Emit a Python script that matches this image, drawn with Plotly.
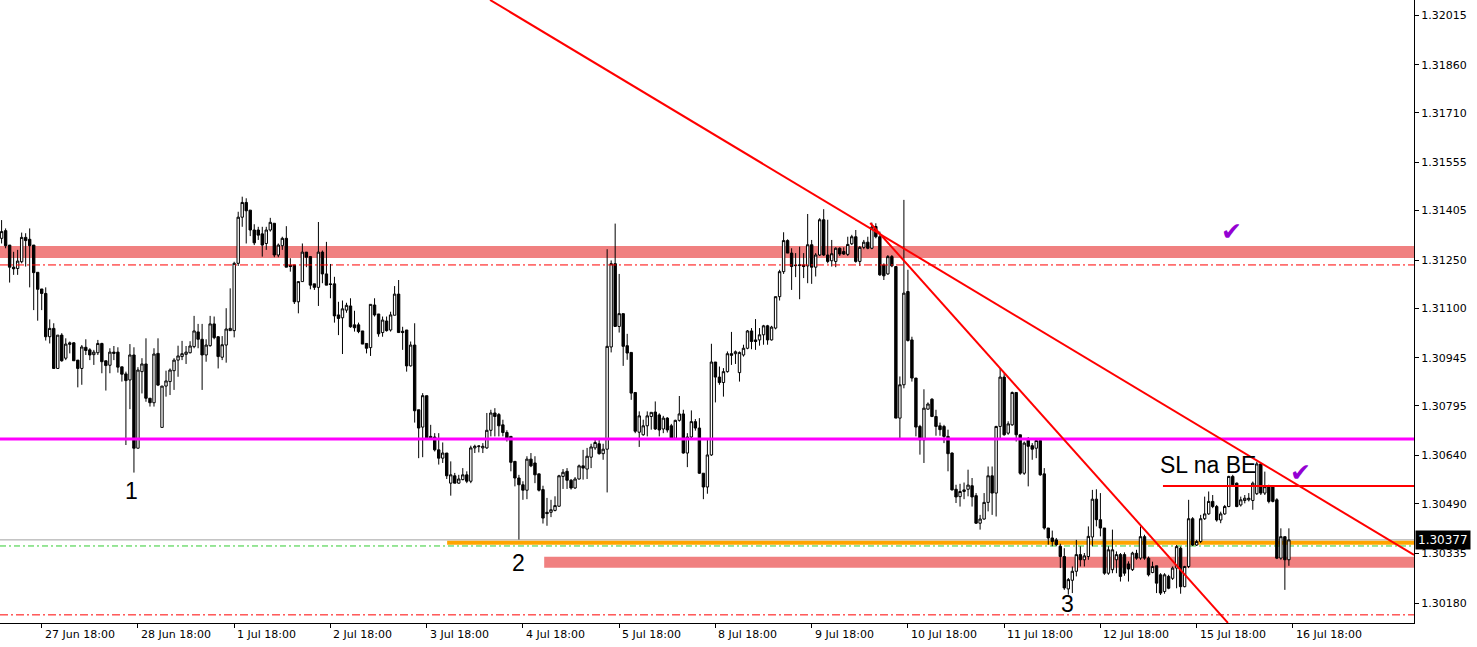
import plotly.graph_objects as go

# ---------------- data (GBPUSD-like H1 candles) ----------------
opens = [
1.31318,1.31342,1.31297,1.31228,1.31224,1.31245,1.31321,1.31315,1.31297,1.31212,
1.31160,1.31146,1.31011,1.31037,1.30912,1.31016,1.30944,1.30987,1.30992,1.30938,
1.30912,1.30978,1.30970,1.30955,1.30961,1.30990,1.30936,1.30922,1.30963,1.30963,
1.30917,1.30895,1.30876,1.30954,1.30663,1.30902,1.30926,1.30819,1.30805,1.30959,
1.30728,1.30857,1.30871,1.30905,1.30938,1.30949,1.30956,1.30961,1.30980,1.31026,
1.31003,1.30954,1.30983,1.31051,1.31011,1.30947,1.30985,1.31030,1.31030,1.31240,
1.31384,1.31430,1.31406,1.31344,1.31344,1.31332,1.31302,1.31344,1.31365,1.31266,
1.31295,1.31318,1.31234,1.31235,1.31120,1.31183,1.31275,1.31261,1.31176,1.31165,
1.31275,1.31207,1.31176,1.31176,1.31079,1.31070,1.31094,1.31107,1.31048,1.31048,
1.31029,1.30990,1.30977,1.31110,1.31082,1.31024,1.31060,1.31032,1.31078,1.31144,
1.31028,1.31032,1.30920,1.30985,1.30783,1.30729,1.30827,1.30700,1.30698,1.30658,
1.30632,1.30648,1.30554,1.30577,1.30554,1.30565,1.30580,1.30560,1.30664,1.30668,
1.30664,1.30664,1.30719,1.30773,1.30768,1.30736,1.30712,1.30700,1.30622,1.30570,
1.30549,1.30532,1.30629,1.30617,1.30583,1.30534,1.30463,1.30463,1.30469,1.30482,
1.30575,1.30591,1.30563,1.30539,1.30567,1.30608,1.30598,1.30635,1.30664,1.30677,
1.30646,1.30660,1.30979,1.31239,1.31043,1.31083,1.30983,1.30962,1.30837,1.30713,
1.30705,1.30733,1.30762,1.30776,1.30767,1.30723,1.30757,1.30733,1.30694,1.30750,
1.30770,1.30648,1.30698,1.30746,1.30726,1.30585,1.30542,1.30642,1.30932,1.30885,
1.30868,1.30902,1.30958,1.30958,1.30899,1.30954,1.30975,1.31029,1.31001,1.31001,
1.31017,1.31045,1.31001,1.31038,1.31136,1.31214,1.31311,1.31272,1.31235,1.31233,
1.31235,1.31232,1.31298,1.31228,1.31266,1.31376,1.31266,1.31248,1.31246,1.31287,
1.31277,1.31268,1.31301,1.31323,1.31246,1.31290,1.31306,1.31287,1.31355,1.31323,
1.31235,1.31207,1.31261,1.31230,1.30757,1.30861,1.31152,1.31001,1.30882,1.30731,
1.30689,1.30785,1.30816,1.30762,1.30733,1.30731,1.30700,1.30648,1.30535,1.30512,
1.30528,1.30535,1.30546,1.30515,1.30429,1.30442,1.30494,1.30577,1.30523,1.30731,
1.30885,1.30710,1.30736,1.30837,1.30705,1.30585,1.30691,1.30671,1.30663,1.30687,
1.30583,1.30414,1.30383,1.30377,1.30357,1.30325,1.30224,1.30251,1.30279,1.30331,
1.30315,1.30325,1.30386,1.30504,1.30440,1.30414,1.30273,1.30284,1.30315,1.30331,
1.30331,1.30302,1.30284,1.30335,1.30320,1.30387,1.30320,1.30275,1.30296,1.30268,
1.30216,1.30263,1.30257,1.30289,1.30351,1.30231,1.30294,1.30443,1.30361,1.30372,
1.30443,1.30458,1.30497,1.30481,1.30439,1.30458,1.30481,1.30575,1.30554,1.30486,
1.30500,1.30502,1.30500,1.30521,1.30614,1.30523,1.30543,1.30543,1.30502,1.30320,
1.30387,1.30315]

highs = [
1.31375,1.31349,1.31297,1.31276,1.31282,1.31336,1.31334,1.31349,1.31297,1.31212,
1.31160,1.31165,1.31065,1.31053,1.31016,1.31022,1.31006,1.30996,1.30994,1.30938,
1.30985,1.31003,1.30975,1.30970,1.31001,1.30992,1.30936,1.30975,1.30982,1.30978,
1.30917,1.30902,1.30988,1.30978,1.30916,1.30944,1.31006,1.30819,1.30975,1.31006,
1.30857,1.30905,1.30912,1.30944,1.30983,1.30998,1.30982,1.30997,1.31076,1.31051,
1.31051,1.31003,1.31076,1.31074,1.31013,1.31013,1.31100,1.31162,1.31245,1.31401,
1.31448,1.31443,1.31406,1.31362,1.31354,1.31354,1.31354,1.31382,1.31365,1.31302,
1.31323,1.31356,1.31256,1.31235,1.31183,1.31302,1.31275,1.31263,1.31176,1.31369,
1.31280,1.31307,1.31238,1.31198,1.31120,1.31124,1.31117,1.31131,1.31092,1.31055,
1.31029,1.30990,1.31112,1.31131,1.31082,1.31074,1.31074,1.31089,1.31169,1.31188,
1.31042,1.31032,1.30996,1.31053,1.30783,1.30835,1.30827,1.30736,1.30710,1.30710,
1.30681,1.30648,1.30622,1.30586,1.30580,1.30601,1.30591,1.30671,1.30674,1.30671,
1.30679,1.30773,1.30783,1.30788,1.30773,1.30752,1.30719,1.30700,1.30622,1.30580,
1.30560,1.30638,1.30648,1.30638,1.30583,1.30546,1.30508,1.30502,1.30513,1.30580,
1.30598,1.30601,1.30567,1.30573,1.30612,1.30658,1.30664,1.30677,1.30692,1.30695,
1.30677,1.31284,1.31249,1.31364,1.31207,1.31083,1.31020,1.30962,1.30837,1.30778,
1.30752,1.30778,1.30775,1.30809,1.30772,1.30764,1.30760,1.30739,1.30752,1.30826,
1.30783,1.30710,1.30781,1.30754,1.30757,1.30585,1.30689,1.30989,1.30932,1.30918,
1.30913,1.30965,1.31026,1.30968,1.30965,1.30986,1.31032,1.31038,1.31066,1.31038,
1.31048,1.31048,1.31045,1.31136,1.31220,1.31337,1.31315,1.31287,1.31272,1.31292,
1.31272,1.31394,1.31313,1.31272,1.31381,1.31409,1.31376,1.31313,1.31290,1.31290,
1.31290,1.31323,1.31329,1.31344,1.31294,1.31313,1.31323,1.31367,1.31365,1.31339,
1.31240,1.31266,1.31266,1.31230,1.30887,1.31438,1.31220,1.31011,1.30882,1.30736,
1.30847,1.30806,1.30819,1.30783,1.30743,1.30736,1.30721,1.30650,1.30549,1.30552,
1.30556,1.30596,1.30570,1.30523,1.30455,1.30523,1.30606,1.30606,1.30733,1.30913,
1.30897,1.30747,1.30840,1.30837,1.30705,1.30684,1.30698,1.30679,1.30689,1.30689,
1.30601,1.30414,1.30406,1.30383,1.30365,1.30351,1.30258,1.30294,1.30377,1.30357,
1.30336,1.30419,1.30533,1.30535,1.30523,1.30414,1.30357,1.30409,1.30341,1.30336,
1.30338,1.30310,1.30340,1.30346,1.30419,1.30393,1.30325,1.30309,1.30296,1.30273,
1.30273,1.30268,1.30294,1.30361,1.30356,1.30296,1.30502,1.30448,1.30377,1.30455,
1.30512,1.30528,1.30517,1.30486,1.30465,1.30486,1.30577,1.30580,1.30556,1.30512,
1.30517,1.30523,1.30559,1.30621,1.30616,1.30590,1.30549,1.30543,1.30507,1.30413,
1.30387,1.30413]

lows = [
1.31302,1.31287,1.31180,1.31204,1.31204,1.31240,1.31230,1.31165,1.31094,1.31061,
1.31094,1.30999,1.30990,1.30912,1.30912,1.30933,1.30938,1.30959,1.30936,1.30853,
1.30861,1.30954,1.30938,1.30923,1.30954,1.30897,1.30843,1.30897,1.30938,1.30899,
1.30871,1.30673,1.30785,1.30587,1.30663,1.30834,1.30808,1.30793,1.30793,1.30857,
1.30728,1.30824,1.30829,1.30845,1.30886,1.30938,1.30926,1.30959,1.30975,1.30975,
1.30845,1.30933,1.30980,1.31003,1.30912,1.30938,1.30930,1.31030,1.31009,1.31232,
1.31354,1.31302,1.31325,1.31297,1.31313,1.31261,1.31282,1.31339,1.31259,1.31259,
1.31282,1.31228,1.31214,1.31113,1.31084,1.31183,1.31228,1.31159,1.31157,1.31107,
1.31178,1.31172,1.31131,1.31055,1.31016,1.30957,1.31086,1.31039,1.31027,1.31022,
1.30988,1.30959,1.30951,1.31074,1.31011,1.31011,1.31027,1.31027,1.31078,1.31024,
1.30970,1.30902,1.30918,1.30743,1.30632,1.30635,1.30690,1.30690,1.30653,1.30612,
1.30617,1.30567,1.30515,1.30554,1.30552,1.30563,1.30554,1.30554,1.30648,1.30650,
1.30648,1.30661,1.30700,1.30700,1.30700,1.30700,1.30684,1.30591,1.30544,1.30378,
1.30502,1.30504,1.30604,1.30554,1.30528,1.30428,1.30421,1.30448,1.30466,1.30480,
1.30536,1.30536,1.30534,1.30536,1.30565,1.30565,1.30567,1.30601,1.30658,1.30643,
1.30627,1.30525,1.30962,1.31043,1.31024,1.30920,1.30939,1.30814,1.30710,1.30667,
1.30702,1.30700,1.30721,1.30720,1.30700,1.30710,1.30712,1.30691,1.30689,1.30746,
1.30646,1.30604,1.30694,1.30718,1.30583,1.30504,1.30521,1.30639,1.30806,1.30861,
1.30824,1.30899,1.30923,1.30926,1.30871,1.30949,1.30972,1.30972,1.30970,1.30983,
1.30986,1.30986,1.30999,1.31034,1.31124,1.31207,1.31272,1.31157,1.31197,1.31128,
1.31194,1.31178,1.31176,1.31199,1.31263,1.31263,1.31240,1.31230,1.31228,1.31263,
1.31266,1.31263,1.31297,1.31242,1.31232,1.31284,1.31284,1.31284,1.31318,1.31201,
1.31188,1.31204,1.31228,1.30757,1.30689,1.30850,1.30996,1.30871,1.30700,1.30643,
1.30617,1.30783,1.30760,1.30702,1.30702,1.30679,1.30591,1.30531,1.30492,1.30481,
1.30504,1.30513,1.30481,1.30427,1.30409,1.30440,1.30466,1.30455,1.30450,1.30689,
1.30702,1.30705,1.30733,1.30684,1.30580,1.30580,1.30544,1.30627,1.30632,1.30577,
1.30409,1.30362,1.30357,1.30357,1.30289,1.30221,1.30206,1.30211,1.30263,1.30294,
1.30294,1.30315,1.30357,1.30419,1.30388,1.30268,1.30268,1.30273,1.30273,1.30247,
1.30265,1.30247,1.30280,1.30315,1.30315,1.30315,1.30263,1.30273,1.30211,1.30205,
1.30209,1.30223,1.30252,1.30226,1.30209,1.30229,1.30289,1.30358,1.30358,1.30367,
1.30439,1.30455,1.30476,1.30434,1.30429,1.30455,1.30479,1.30543,1.30479,1.30481,
1.30491,1.30497,1.30471,1.30517,1.30517,1.30517,1.30491,1.30494,1.30317,1.30315,
1.30221,1.30296]

closes = [
1.31339,1.31295,1.31228,1.31223,1.31247,1.31321,1.31311,1.31295,1.31211,1.31159,
1.31146,1.31011,1.31037,1.30912,1.31016,1.30936,1.30988,1.30992,1.30936,1.30912,
1.30979,1.30968,1.30954,1.30963,1.30990,1.30933,1.30921,1.30963,1.30959,1.30916,
1.30894,1.30874,1.30954,1.30663,1.30907,1.30926,1.30819,1.30805,1.30957,1.30860,
1.30857,1.30873,1.30907,1.30938,1.30951,1.30958,1.30963,1.30982,1.31029,1.31003,
1.30954,1.30985,1.31051,1.31008,1.30949,1.30986,1.31035,1.31037,1.31240,1.31384,
1.31430,1.31404,1.31344,1.31304,1.31328,1.31297,1.31344,1.31368,1.31266,1.31297,
1.31318,1.31228,1.31230,1.31120,1.31183,1.31275,1.31259,1.31172,1.31165,1.31275,
1.31207,1.31172,1.31174,1.31076,1.31068,1.31098,1.31109,1.31042,1.31039,1.31027,
1.30988,1.30975,1.31112,1.31079,1.31020,1.31063,1.31030,1.31079,1.31144,1.31024,
1.31024,1.30920,1.30985,1.30780,1.30726,1.30827,1.30695,1.30692,1.30658,1.30632,
1.30648,1.30577,1.30580,1.30554,1.30567,1.30580,1.30560,1.30664,1.30669,1.30670,
1.30669,1.30719,1.30773,1.30762,1.30733,1.30712,1.30695,1.30619,1.30570,1.30549,
1.30532,1.30629,1.30608,1.30580,1.30532,1.30445,1.30459,1.30471,1.30484,1.30577,
1.30588,1.30563,1.30539,1.30567,1.30608,1.30601,1.30638,1.30667,1.30681,1.30646,
1.30660,1.30981,1.31239,1.31043,1.31083,1.30981,1.30960,1.30835,1.30716,1.30764,
1.30733,1.30764,1.30775,1.30723,1.30720,1.30757,1.30720,1.30694,1.30750,1.30770,
1.30648,1.30698,1.30746,1.30726,1.30585,1.30542,1.30642,1.30932,1.30885,1.30868,
1.30902,1.30958,1.30953,1.30964,1.30962,1.30975,1.31029,1.30996,1.30996,1.31017,
1.31045,1.31001,1.31041,1.31136,1.31214,1.31311,1.31272,1.31230,1.31233,1.31235,
1.31230,1.31298,1.31228,1.31266,1.31376,1.31266,1.31246,1.31270,1.31287,1.31269,
1.31269,1.31299,1.31323,1.31246,1.31290,1.31306,1.31287,1.31353,1.31323,1.31204,
1.31201,1.31261,1.31232,1.30757,1.30861,1.31147,1.30999,1.30882,1.30729,1.30689,
1.30788,1.30801,1.30762,1.30731,1.30721,1.30700,1.30646,1.30533,1.30511,1.30528,
1.30533,1.30548,1.30511,1.30429,1.30442,1.30494,1.30577,1.30523,1.30731,1.30885,
1.30705,1.30739,1.30837,1.30705,1.30585,1.30679,1.30669,1.30660,1.30687,1.30580,
1.30414,1.30383,1.30372,1.30362,1.30325,1.30227,1.30253,1.30279,1.30331,1.30315,
1.30327,1.30388,1.30504,1.30440,1.30414,1.30273,1.30346,1.30346,1.30331,1.30263,
1.30273,1.30286,1.30336,1.30320,1.30387,1.30320,1.30268,1.30294,1.30242,1.30211,
1.30268,1.30226,1.30289,1.30356,1.30231,1.30294,1.30443,1.30361,1.30372,1.30443,
1.30458,1.30497,1.30481,1.30439,1.30458,1.30481,1.30575,1.30549,1.30481,1.30502,
1.30507,1.30507,1.30554,1.30614,1.30523,1.30543,1.30497,1.30497,1.30320,1.30387,
1.30315,1.30377]

# x-axis: one bar per hour, a date label every 24 bars
date_labels = ["26 Jun 18:00", "27 Jun 18:00", "28 Jun 18:00", "1 Jul 18:00", "2 Jul 18:00",
               "3 Jul 18:00", "4 Jul 18:00", "5 Jul 18:00", "8 Jul 18:00", "9 Jul 18:00",
               "10 Jul 18:00", "11 Jul 18:00", "12 Jul 18:00", "15 Jul 18:00", "16 Jul 18:00"]
first_label_bar = -14
bars_per_label = 24

# y-axis tick labels (price scale)
price_ticks = [1.32015, 1.31860, 1.31710, 1.31555, 1.31405, 1.31250, 1.31100,
               1.30945, 1.30795, 1.30640, 1.30490, 1.30335, 1.30180]

# drawn objects (price levels / trend lines)
upper_zone = (1.31257, 1.31294)
upper_dashdot = 1.31235
magenta_level = 1.30692
sl_level = 1.30545
sl_start_bar = 289.6
bid_price = 1.30377
orange_level = 1.30368
orange_start_bar = 111.1
green_level = 1.30358
lower_zone = (1.30290, 1.30324)
lower_zone_start_bar = 135.3
bottom_dashdot = 1.30143
trend_a = [(121.8, 1.32062), (352.2, 1.30330)]
trend_b = [(216.6, 1.31366), (305.8, 1.30118)]

x_range = [-0.4, 352.2]
y_range = [1.301176, 1.320618]

# ---------------- figure ----------------
n = min(len(opens), len(highs), len(lows), len(closes))
bars = list(range(n))

FONT = "DejaVu Sans"

fig = go.Figure()
fig.add_trace(go.Candlestick(
    x=bars, open=opens[:n], high=highs[:n], low=lows[:n], close=closes[:n],
    increasing=dict(line=dict(color="black", width=1), fillcolor="white"),
    decreasing=dict(line=dict(color="black", width=1), fillcolor="black"),
    whiskerwidth=0, showlegend=False, hoverinfo="skip",
))

shapes = []
xe = x_range[1]
# background objects
shapes.append(dict(type="rect", xref="paper", x0=0, x1=1, yref="y", y0=upper_zone[0], y1=upper_zone[1],
                   fillcolor="#F08080", line=dict(width=0), layer="below"))
shapes.append(dict(type="rect", xref="x", x0=lower_zone_start_bar, x1=xe, yref="y",
                   y0=lower_zone[0], y1=lower_zone[1], fillcolor="#F08080", line=dict(width=0), layer="below"))
shapes.append(dict(type="line", xref="x", x0=orange_start_bar, x1=xe, yref="y", y0=orange_level, y1=orange_level,
                   line=dict(color="#FFA500", width=4), layer="below"))
shapes.append(dict(type="line", xref="paper", x0=0, x1=1, yref="y", y0=green_level, y1=green_level,
                   line=dict(color="#32CD32", width=1, dash="6px,3px,2px,3px"), layer="below"))
shapes.append(dict(type="line", xref="paper", x0=0, x1=1, yref="y", y0=bid_price, y1=bid_price,
                   line=dict(color="#A0A0A0", width=1), layer="below"))
# foreground objects
dashdot = "8px,3px,2px,3px"
shapes.append(dict(type="line", xref="paper", x0=0, x1=1, yref="y", y0=upper_dashdot, y1=upper_dashdot,
                   line=dict(color="red", width=1, dash=dashdot)))
shapes.append(dict(type="line", xref="paper", x0=0, x1=1, yref="y", y0=bottom_dashdot, y1=bottom_dashdot,
                   line=dict(color="red", width=1, dash=dashdot)))
shapes.append(dict(type="line", xref="paper", x0=0, x1=1, yref="y", y0=magenta_level, y1=magenta_level,
                   line=dict(color="#FF00FF", width=3)))
shapes.append(dict(type="line", xref="x", x0=sl_start_bar, x1=xe, yref="y", y0=sl_level, y1=sl_level,
                   line=dict(color="red", width=2)))
for (xa, ya), (xb, yb) in (trend_a, trend_b):
    shapes.append(dict(type="line", xref="x", x0=xa, x1=xb, yref="y", y0=ya, y1=yb,
                       line=dict(color="red", width=2)))

annotations = []
# x-axis labels, left-aligned at their tick like the terminal does
for k, lab in enumerate(date_labels):
    annotations.append(dict(x=first_label_bar + k * bars_per_label, y=0, xref="x", yref="paper",
                            text=lab, showarrow=False, xanchor="left", yanchor="top",
                            xshift=1, yshift=-3, font=dict(family=FONT, size=11, color="black")))
# current price tag
annotations.append(dict(x=1, y=bid_price, xref="paper", yref="y", text="1.30377", showarrow=False,
                        xanchor="left", yanchor="middle", xshift=1, bgcolor="black",
                        font=dict(family=FONT, size=12, color="white"), borderpad=2))
# chart notes
note_font = dict(family="Liberation Sans, Arial", size=23, color="black")
for txt, bx, py in (("1", 32.5, 1.30530), ("2", 129.0, 1.30305), ("3", 265.9, 1.30178),
                    ("SL na BE", 300.8, 1.30611)):
    annotations.append(dict(x=bx, y=py, xref="x", yref="y", text=txt, showarrow=False,
                            xanchor="center", yanchor="middle", font=note_font))
for bx, py in ((306.8, 1.31338), (324.0, 1.30586)):
    annotations.append(dict(x=bx, y=py, xref="x", yref="y", text="✔", showarrow=False,
                            xanchor="center", yanchor="middle",
                            font=dict(family=FONT, size=25, color="#9400D3")))

fig.update_layout(
    width=1477, height=647, autosize=False,
    margin=dict(l=0, r=63, t=0, b=24, pad=0),
    paper_bgcolor="white", plot_bgcolor="white",
    shapes=shapes, annotations=annotations, showlegend=False,
    boxgap=0.15,
    xaxis=dict(range=x_range, rangeslider=dict(visible=False), showgrid=False, zeroline=False,
               tickmode="array",
               tickvals=[first_label_bar + k * bars_per_label for k in range(len(date_labels))],
               showticklabels=False, ticks="outside", ticklen=4, tickcolor="black",
               showline=True, linecolor="black", linewidth=1, fixedrange=True),
    yaxis=dict(range=y_range, side="right", showgrid=False, zeroline=False,
               tickmode="array", tickvals=price_ticks, ticktext=[f"{v:.5f}" for v in price_ticks],
               ticks="outside", ticklen=4, tickcolor="black",
               tickfont=dict(family=FONT, size=11, color="black"),
               showline=True, linecolor="black", linewidth=1, mirror=False, fixedrange=True),
)

fig.write_html("out.html", config={"displayModeBar": False},
               post_script="document.body.style.margin='0';document.body.style.padding='0';")
